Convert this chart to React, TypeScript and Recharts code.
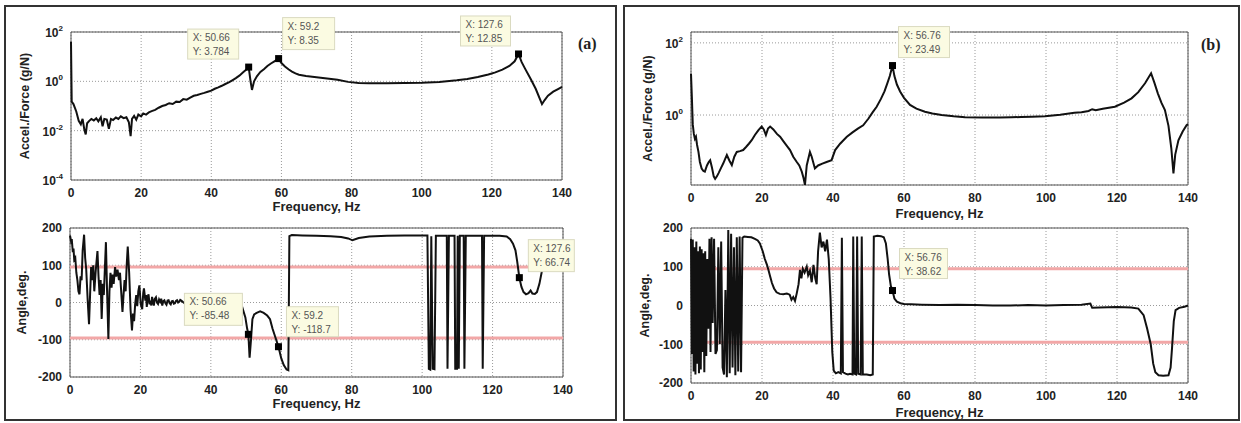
import React from 'react';
import { LineChart, Line, XAxis, YAxis, CartesianGrid, ReferenceArea, ReferenceLine, ReferenceDot } from 'recharts';

type Pt = [number, number];

const FONT = '"Liberation Sans", Arial, sans-serif';

const FREQ_TICKS = [0, 20, 40, 60, 80, 100, 120, 140];
const MAG_TICKS_A = [1e-4, 1e-2, 1, 100];
const MAG_TICKS_B = [1, 100];
const PHASE_TICKS = [-200, -100, 0, 100, 200];
const PHASE_BANDS = [95, -95];

// (a) magnitude, g/N
const magA: Pt[] = [
  [0, 40], [0.2, 0.15], [0.7, 0.12], [1.5, 0.06], [2.2, 0.025], [2.8, 0.018], [3.3, 0.03], [3.8, 0.011],
  [4.2, 0.007], [4.6, 0.02], [5.2, 0.025], [5.8, 0.03], [6.5, 0.026], [7.2, 0.032], [7.8, 0.024], [8.5, 0.035],
  [9.0, 0.015], [9.5, 0.03], [10.2, 0.028], [10.8, 0.012], [11.4, 0.03], [12.0, 0.027], [12.8, 0.034], [13.5, 0.03],
  [14.2, 0.038], [15.0, 0.032], [15.8, 0.035], [16.5, 0.022], [17.0, 0.006], [17.4, 0.03], [18.0, 0.04], [18.6, 0.028],
  [19.2, 0.045], [20.0, 0.038], [20.6, 0.05], [21.4, 0.045], [22.2, 0.055], [23.0, 0.062], [24, 0.07], [25, 0.085],
  [26, 0.1], [27, 0.11], [28, 0.13], [29, 0.12], [30, 0.15], [31, 0.145], [32, 0.19], [33, 0.18], [34, 0.22],
  [35, 0.26], [36, 0.28], [37, 0.31], [38, 0.34], [39, 0.38], [40, 0.42], [41, 0.5], [42, 0.57], [43, 0.66],
  [44, 0.78], [45, 0.9], [46, 1.1], [47, 1.35], [48, 1.7], [49, 2.3], [50, 3.0], [50.66, 3.784], [51.2, 1.0],
  [51.6, 0.45], [52.2, 1.0], [53, 1.6], [54, 2.4], [55, 3.1], [56, 4.2], [57, 5.3], [58, 6.5], [59.2, 8.35],
  [60, 5.5], [61, 4.0], [62, 3.1], [63, 2.5], [64, 2.1], [65, 1.85], [67, 1.65], [70, 1.45], [73, 1.3],
  [76, 1.15], [79, 0.95], [82, 0.85], [85, 0.83], [90, 0.83], [95, 0.85], [100, 0.87], [105, 0.95], [110, 1.1],
  [113, 1.25], [116, 1.5], [119, 1.9], [121, 2.3], [123, 3.0], [125, 4.2], [126.5, 6.5], [127.6, 12.85],
  [128.5, 6], [129.5, 3.2], [131, 1.3], [132.5, 0.5], [134.3, 0.12], [135, 0.17], [136, 0.26], [137.5, 0.38],
  [139, 0.5], [140, 0.6],
];

// (a) phase, deg
const phaseA: Pt[] = [
  [0, 180], [0.3, 165], [0.5, 170], [0.8, 135], [1.0, 145], [1.2, 115], [1.5, 120], [1.8, 80], [2.1, 60],
  [2.4, 30], [2.7, 22], [3.0, 70], [3.3, 60], [3.6, 140], [4.0, 182], [4.3, 120], [4.6, 90], [5.0, 10],
  [5.4, -58], [5.7, 20], [6.0, 95], [6.3, 60], [6.6, 100], [6.9, 30], [7.3, 85], [7.8, 138], [8.1, 70],
  [8.4, 20], [8.7, 60], [9.0, -44], [9.3, 50], [9.6, 20], [9.9, 90], [10.2, 162], [10.5, 40], [10.9, -98],
  [11.2, 30], [11.5, 80], [11.8, 40], [12.1, 75], [12.4, 50], [12.8, 95], [13.1, 70], [13.5, 88], [13.9, 60],
  [14.2, 80], [14.5, 35], [14.9, -25], [15.2, 20], [15.5, 60], [15.8, 30], [16.1, 100], [16.4, 150], [16.8, 80],
  [17.2, -20], [17.6, -75], [17.9, -30], [18.2, -50], [18.5, -5], [18.8, 20], [19.1, -10], [19.4, 30],
  [19.7, 46], [20.1, -5], [20.5, -18], [20.8, 25], [21.0, 38], [21.4, 5], [21.6, 20], [21.8, -12], [22.1, 15],
  [22.3, 22], [22.6, -5], [22.8, 5], [23.1, -8], [23.3, 15], [23.6, 2], [23.8, -8], [24.1, 10], [24.4, 14],
  [24.7, 0], [25.0, -4], [25.3, 8], [25.6, 2], [25.9, 10], [26.2, -8], [26.5, 4], [26.8, 6], [27.1, -2],
  [27.4, -6], [27.7, 5], [28.0, 6], [28.3, -2], [28.6, -5], [28.9, 3], [29.2, 4], [29.5, -3], [29.8, -2],
  [30.1, 4], [30.4, 6], [30.7, 0], [31.0, 2], [31.3, 7], [31.6, 5], [32.5, -2], [34, -10], [36, -20],
  [38, -30], [40, -35], [42, -40], [44, -45], [46, -40], [48, -25], [49, -15], [49.8, -40], [50.3, -70],
  [50.66, -85.48], [51.0, -148], [51.4, -100], [51.8, -45], [52.3, -32], [53.0, -28], [54.0, -24], [55.0, -28],
  [56.0, -35], [56.8, -45], [57.5, -70], [58.2, -90], [59.2, -118.7], [60.0, -150], [60.7, -168], [61.5, -180],
  [62.0, -182], [62.3, 178], [63, 181], [66, 180], [70, 179], [74, 178], [77, 176], [79, 172], [80.2, 167],
  [82, 173], [85, 177], [90, 179], [95, 180], [101.5, 180], [101.9, -178], [102.3, -180], [102.6, 178],
  [103.0, -178], [103.5, -179], [103.9, 179], [107.0, 179], [107.2, -178], [107.6, 179], [109.2, 179],
  [109.4, -178], [109.9, -178], [110.1, 179], [110.4, -178], [110.7, 179], [111.8, 179], [112.0, -178],
  [112.4, 179], [117.0, 179], [117.2, -178], [117.6, 179], [122, 179], [124, 177], [125, 170], [125.8, 158],
  [126.5, 140], [127.0, 110], [127.6, 66.74], [128.2, 42], [128.8, 28], [129.5, 22], [130.2, 25], [130.8, 32],
  [131.3, 24], [132.0, 23], [132.6, 28], [133.3, 50], [134.0, 84], [135, 110], [137, 120], [140, 125],
];

// (b) magnitude, g/N
const magB: Pt[] = [
  [0, 14], [0.25, 3], [0.5, 0.55], [0.8, 0.3], [1.1, 0.22], [1.4, 0.25], [1.7, 0.15], [2.1, 0.095], [2.5, 0.05],
  [3.0, 0.033], [3.5, 0.028], [3.9, 0.027], [4.5, 0.04], [5.0, 0.05], [5.4, 0.056], [5.9, 0.035], [6.4, 0.02],
  [6.8, 0.017], [7.3, 0.02], [7.8, 0.025], [8.5, 0.035], [9.1, 0.046], [9.6, 0.06], [10.1, 0.078], [10.8, 0.055],
  [11.5, 0.041], [12.2, 0.07], [12.9, 0.095], [13.8, 0.1], [14.7, 0.107], [15.5, 0.13], [16.3, 0.16], [17.1, 0.2],
  [18.0, 0.28], [19.0, 0.38], [19.9, 0.48], [20.5, 0.4], [21.1, 0.28], [21.7, 0.42], [22.3, 0.48], [23.2, 0.4],
  [24.2, 0.3], [25.1, 0.25], [26.0, 0.19], [27.0, 0.14], [27.9, 0.107], [28.8, 0.07], [29.8, 0.05], [30.5, 0.04],
  [31.2, 0.027], [31.7, 0.018], [32.1, 0.0115], [32.6, 0.04], [33.5, 0.095], [34.0, 0.07], [34.9, 0.033],
  [35.8, 0.04], [37.0, 0.045], [38.2, 0.05], [39.6, 0.056], [40.6, 0.107], [42.0, 0.16], [43.9, 0.25],
  [45.5, 0.33], [47.0, 0.42], [48.5, 0.52], [50, 0.8], [51.2, 1.2], [52.3, 1.7], [53.5, 2.8], [54.5, 4.5],
  [55.3, 7.5], [56.0, 12], [56.76, 23.49], [57.3, 12], [58.0, 7], [58.9, 4.5], [60.0, 3], [61.7, 1.9],
  [63.5, 1.5], [65.9, 1.23], [68, 1.1], [70.6, 1.0], [74, 0.92], [77.2, 0.87], [82, 0.86], [87, 0.86],
  [90.3, 0.87], [93, 0.88], [96, 0.9], [99.7, 0.93], [104, 1.02], [108, 1.15], [110, 1.2], [112, 1.3],
  [113, 1.45], [114, 1.35], [116, 1.5], [119.4, 1.7], [122, 2.2], [124.1, 2.9], [126, 4.3], [127.9, 7.6],
  [129.6, 14.4], [130.5, 8], [131.5, 4], [132.5, 2.2], [133.5, 1.38], [134.5, 0.5], [135.3, 0.12],
  [135.9, 0.024], [136.4, 0.08], [137.3, 0.2], [138.5, 0.35], [139.6, 0.52], [140, 0.56],
];

// (b) phase, deg
const phaseB: Pt[] = [
  [0, 172], [0.25, -125], [0.5, 170], [0.75, -170], [1.0, 150], [1.25, -178], [1.5, 165], [1.75, -150],
  [2.0, 140], [2.25, -175], [2.5, 152], [2.75, -165], [3.0, 145], [3.25, -120], [3.5, 135], [3.75, -172],
  [4.0, 140], [4.3, -130], [4.6, 120], [4.9, -60], [5.2, 172], [5.5, -120], [5.8, 176], [6.1, -45],
  [6.5, 172], [6.9, -125], [7.3, -115], [7.7, 150], [8.1, -100], [8.5, 165], [8.9, -160], [9.3, -178],
  [9.7, 40], [10.1, -185], [10.5, 195], [10.9, -175], [11.3, 185], [11.7, -160], [12.1, 150], [12.5, -180],
  [12.9, 176], [13.3, -170], [13.7, 178], [14.1, -172], [14.5, 175], [15.0, 178], [16, 177], [17, 176],
  [18, 172], [18.8, 168], [19.4, 160], [20.2, 140], [20.8, 120], [21.4, 105], [21.8, 92], [22.3, 75],
  [22.8, 58], [23.4, 44], [24.1, 34], [25, 30], [26, 29], [27, 31], [27.8, 28], [28.3, 15], [28.8, 22],
  [29.3, 12], [29.8, 32], [30.3, 55], [30.7, 92], [31.1, 70], [31.5, 95], [32, 85], [32.6, 100], [33.0, 78],
  [33.5, 90], [34.0, 60], [34.5, 105], [35.0, 70], [35.4, 55], [35.8, 140], [36.3, 188], [36.8, 150],
  [37.3, 165], [37.8, 140], [38.3, 170], [38.8, 120], [39.3, 20], [39.8, -120], [40.2, -168], [40.8, -175],
  [41.5, -172], [42.2, -175], [42.5, 175], [42.8, -172], [43.5, -176], [44.2, -178], [44.8, -176],
  [45.5, -178], [45.7, 178], [46.0, -176], [46.5, -178], [46.8, 178], [47.1, -176], [47.8, -178], [48.1, 178],
  [48.4, -178], [49.5, -178], [50.5, -180], [51.2, -178], [51.5, 178], [52.5, 180], [53.5, 179], [54.3, 176],
  [54.9, 160], [55.4, 120], [55.8, 80], [56.3, 50], [56.76, 38.62], [57.3, 18], [58, 10], [59, 6], [60, 4],
  [62, 3], [65, 2], [70, 1], [75, 2], [80, 1], [85, 0], [90, 0], [95, 1], [100, 0], [105, 1], [110, 2],
  [112.5, 5], [113, -6], [115, -5], [120, -4], [124, -5], [126, -8], [127.5, -25], [128.5, -60], [129.5, -100],
  [130.2, -150], [130.8, -172], [131.7, -180], [133, -181], [134.5, -180], [135.1, -160], [135.5, -110],
  [136, -40], [136.5, -12], [137.5, -6], [139, -3], [140, 0],
];

// data tips (X, Y)
const tipsMagA: Pt[] = [[50.66, 3.784], [59.2, 8.35], [127.6, 12.85]];
const tipsPhaseA: Pt[] = [[50.66, -85.48], [59.2, -118.7], [127.6, 66.74]];
const tipsMagB: Pt[] = [[56.76, 23.49]];
const tipsPhaseB: Pt[] = [[56.76, 38.62]];

interface TipBox { dx: number; dy: number; w: number; h: number }

// box placement relative to the marker
const boxesMagA: TipBox[] = [
  { dx: -61, dy: -38, w: 51, h: 30 },
  { dx: 4, dy: -41, w: 52, h: 32 },
  { dx: -58, dy: -38, w: 50, h: 30 },
];
const boxesPhaseA: TipBox[] = [
  { dx: -64, dy: -41, w: 58, h: 32 },
  { dx: 8, dy: -40, w: 52, h: 30 },
  { dx: 9, dy: -38, w: 46, h: 32 },
];
const boxesMagB: TipBox[] = [{ dx: 6, dy: -39, w: 51, h: 31 }];
const boxesPhaseB: TipBox[] = [{ dx: 7, dy: -42, w: 48, h: 30 }];

const toRows = (pts: Pt[]) => pts.map(([f, v]) => ({ f, v }));

function tipShape(tip: Pt, box: TipBox) {
  return (props: any) => {
    const { cx, cy } = props;
    if (cx == null || cy == null) return <g />;
    const bx = cx + box.dx;
    const by = cy + box.dy;
    return (
      <g>
        <rect x={bx} y={by} width={box.w} height={box.h} fill="#fbfbe2" stroke="#dadac0" strokeWidth={1} />
        <text x={bx + 5} y={by + 12} fontSize={10} fill="#555" fontFamily={FONT}>X: {tip[0]}</text>
        <text x={bx + 5} y={by + 26} fontSize={10} fill="#555" fontFamily={FONT}>Y: {tip[1]}</text>
        <rect x={cx - 3.5} y={cy - 3.5} width={7} height={7} fill="#000" />
      </g>
    );
  };
}

const PowTick = ({ x, y, payload }: any) => {
  const e = Math.round(Math.log10(payload.value));
  return (
    <text x={x} y={y} dy={5} textAnchor="end" fontSize={12} fontWeight="bold" fill="#222" fontFamily={FONT}>
      10<tspan dy={-6} fontSize={8}>{e}</tspan>
    </text>
  );
};

const tickStyle = { fontSize: 12, fontWeight: 'bold', fill: '#222', fontFamily: FONT };

interface PlotProps {
  left: number;
  top: number;
  width: number;
  height: number;
  margin: { top: number; right: number; bottom: number; left: number };
  xAxisHeight: number;
  points: Pt[];
  log?: boolean;
  yDomain: [number, number];
  yTicks: number[];
  yLabel: string;
  yLabelOffset: number;
  tips: Pt[];
  boxes: TipBox[];
  bands?: number[];
}

function Plot(p: PlotProps) {
  const rows = toRows(p.points);
  const scale = p.log ? 'log' : 'linear';
  return (
    <>
      <div style={{ position: 'absolute', left: p.left, top: p.top, width: p.width, height: p.height }}>
        <LineChart width={p.width} height={p.height} data={rows} margin={p.margin}>
          <CartesianGrid stroke="#9a9a9a" strokeDasharray="1 2" />
          {(p.bands || []).map((b) => (
            <ReferenceLine key={b} y={b} stroke="#f2a7a7" strokeWidth={3} />
          ))}
          <ReferenceArea x1={0} x2={140} y1={p.yDomain[0]} y2={p.yDomain[1]} fill="none" fillOpacity={0}
            stroke="#555" strokeWidth={1} ifOverflow="visible" />
          <XAxis dataKey="f" type="number" domain={[0, 140]} ticks={FREQ_TICKS} interval={0} height={p.xAxisHeight}
            axisLine={false} tickLine={false} tick={tickStyle}
            label={{ value: 'Frequency, Hz', position: 'insideBottom', offset: 0, fontSize: 13, fontWeight: 'bold', fill: '#222', fontFamily: FONT }} />
          <YAxis type="number" scale={scale} domain={p.yDomain} ticks={p.yTicks} interval={0}
            allowDataOverflow width={60} axisLine={false} tickLine={false}
            tick={p.log ? <PowTick /> : tickStyle}
            label={{ value: p.yLabel, angle: -90, position: 'insideLeft', offset: p.yLabelOffset,
              style: { textAnchor: 'middle' }, fontSize: 12.5, fontWeight: 'bold', fill: '#222', fontFamily: FONT }} />
          <Line dataKey="v" type="linear" stroke="#111" strokeWidth={2} dot={false} activeDot={false}
            isAnimationActive={false} />
        </LineChart>
      </div>
      {/* data tips drawn in an overlay chart so they sit above the curve */}
      <div style={{ position: 'absolute', left: p.left, top: p.top, width: p.width, height: p.height, pointerEvents: 'none' }}>
        <LineChart width={p.width} height={p.height} data={rows} margin={p.margin}>
          <XAxis dataKey="f" type="number" domain={[0, 140]} ticks={FREQ_TICKS} height={p.xAxisHeight}
            axisLine={false} tickLine={false} tick={false} />
          <YAxis type="number" scale={scale} domain={p.yDomain} ticks={p.yTicks} allowDataOverflow width={60}
            axisLine={false} tickLine={false} tick={false} />
          {p.tips.map((t, i) => (
            <ReferenceDot key={i} x={t[0]} y={t[1]} r={4} ifOverflow="visible" shape={tipShape(t, p.boxes[i])} />
          ))}
        </LineChart>
      </div>
    </>
  );
}

export default function App() {
  return (
    <div style={{ position: 'absolute', left: 0, top: 0, width: 1241, height: 423, background: '#fff', overflow: 'hidden' }}>
      <div style={{ position: 'absolute', left: 4, top: 5, width: 613, height: 416, border: '2px solid #333', boxSizing: 'border-box' }} />
      <div style={{ position: 'absolute', left: 623, top: 5, width: 617, height: 416, border: '2px solid #333', boxSizing: 'border-box' }} />

      <Plot left={0} top={0} width={620} height={215} margin={{ top: 32, right: 58, left: 11, bottom: 4 }}
        xAxisHeight={31} points={magA} log yDomain={[1e-4, 100]} yTicks={MAG_TICKS_A}
        yLabel="Accel./Force (g/N)" yLabelOffset={14} tips={tipsMagA} boxes={boxesMagA} />
      <Plot left={0} top={215} width={620} height={205} margin={{ top: 13, right: 57, left: 10, bottom: 12 }}
        xAxisHeight={31} points={phaseA} yDomain={[-200, 200]} yTicks={PHASE_TICKS}
        yLabel="Angle,deg." yLabelOffset={12} tips={tipsPhaseA} boxes={boxesPhaseA} bands={PHASE_BANDS} />
      <Plot left={620} top={0} width={621} height={220} margin={{ top: 32, right: 53, left: 11, bottom: 2 }}
        xAxisHeight={33} points={magB} log yDomain={[0.0115, 200]} yTicks={MAG_TICKS_B}
        yLabel="Accel./Force (g/N)" yLabelOffset={17} tips={tipsMagB} boxes={boxesMagB} />
      <Plot left={620} top={220} width={621} height={203} margin={{ top: 8, right: 53, left: 11, bottom: 6 }}
        xAxisHeight={34} points={phaseB} yDomain={[-200, 200]} yTicks={PHASE_TICKS}
        yLabel="Angle,deg." yLabelOffset={14} tips={tipsPhaseB} boxes={boxesPhaseB} bands={PHASE_BANDS} />

      <div style={{ position: 'absolute', left: 578, top: 36, font: 'bold 16px "Liberation Serif", serif', color: '#222', lineHeight: 1 }}>(a)</div>
      <div style={{ position: 'absolute', left: 1201, top: 37, font: 'bold 16px "Liberation Serif", serif', color: '#222', lineHeight: 1 }}>(b)</div>
    </div>
  );
}
